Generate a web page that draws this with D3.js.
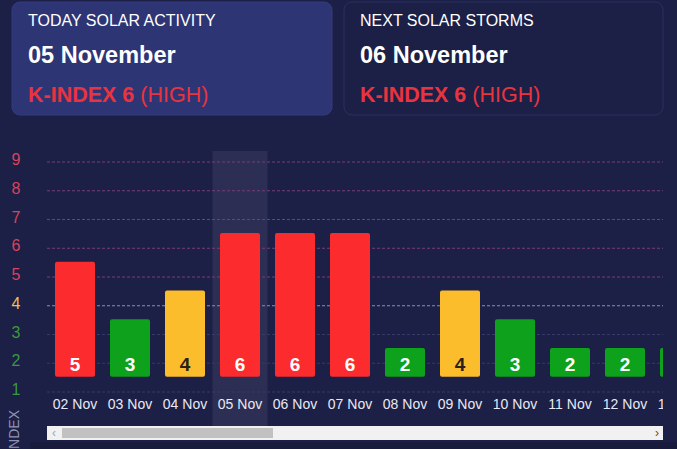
<!DOCTYPE html>
<html>
<head>
<meta charset="utf-8">
<script src="https://cdn.jsdelivr.net/npm/d3@7"></script>
<style>
  html, body { margin: 0; padding: 0; background: #1c1f46; overflow: hidden; }
  svg { display: block; font-family: "Liberation Sans", Arial, sans-serif; }
</style>
</head>
<body>
<div id="chart"></div>
<script>
// data
const days = ["02 Nov", "03 Nov", "04 Nov", "05 Nov", "06 Nov", "07 Nov",
              "08 Nov", "09 Nov", "10 Nov", "11 Nov", "12 Nov", "13 Nov"];
const kIndex = [5, 3, 4, 6, 6, 6, 2, 4, 3, 2, 2, 2];
const yTicks = [1, 2, 3, 4, 5, 6, 7, 8, 9];
const today = "05 Nov";

const cards = [
  { title: "TODAY SOLAR ACTIVITY", date: "05 November", k: "K-INDEX 6", level: "(HIGH)" },
  { title: "NEXT SOLAR STORMS", date: "06 November", k: "K-INDEX 6", level: "(HIGH)" }
];

const width = 677, height = 449;
const plot = { left: 47, right: 663 };

// colour by storm level
const barColor = v => v >= 5 ? "#fb2b2e" : v === 4 ? "#fbbd2b" : "#0ea11b";
const tickColor = v => v >= 5 ? "#d9435e" : v === 4 ? "#e9c25a" : "#3a9a3e";
const gridColor = v => v >= 5 ? "#7a3c78" : v === 4 ? "#8d8fa8" : "#353a66";

const svg = d3.select("#chart").append("svg")
  .attr("width", width)
  .attr("height", height);

// header cards
const card = svg.append("g").selectAll("g")
  .data(cards)
  .join("g")
    .attr("transform", (d, i) => `translate(${i ? 344 : 12}, 2)`);

card.append("rect")
  .attr("width", (d, i) => i ? 319 : 320)
  .attr("height", 113)
  .attr("rx", 8)
  .attr("fill", (d, i) => i ? "#1c1f46" : "#2e3575")
  .attr("stroke", (d, i) => i ? "#2b3061" : "#343b7c");

card.append("text")
  .attr("x", 16).attr("y", 24)
  .attr("fill", "#ffffff")
  .attr("font-size", 16)
  .text(d => d.title);

card.append("text")
  .attr("x", 16).attr("y", 61)
  .attr("fill", "#ffffff")
  .attr("font-size", 23.5)
  .attr("font-weight", "bold")
  .text(d => d.date);

const kLine = card.append("text")
  .attr("x", 16).attr("y", 100)
  .attr("fill", "#e8343f")
  .attr("font-size", 21.5);
kLine.append("tspan").attr("font-weight", "bold").text(d => d.k + " ");
kLine.append("tspan").text(d => d.level);

// scales
const x = d3.scaleBand()
  .domain(days)
  .range([47.5, 707.5])
  .paddingInner(15 / 55)
  .paddingOuter(7.5 / 55);

const y = d3.scaleLinear()
  .domain([1, 9])
  .range([391, 161]);

svg.append("defs").append("clipPath").attr("id", "plot-clip")
  .append("rect")
    .attr("x", plot.left).attr("y", 140)
    .attr("width", plot.right - plot.left).attr("height", 300);

// y labels
svg.append("g").selectAll("text")
  .data(yTicks)
  .join("text")
    .attr("x", 16)
    .attr("y", d => y(d) + 4)
    .attr("text-anchor", "middle")
    .attr("font-size", 16)
    .attr("fill", tickColor)
    .text(d => d);

svg.append("text")
  .attr("transform", "translate(19, 410) rotate(-90)")
  .attr("text-anchor", "end")
  .attr("font-size", 14)
  .attr("fill", "#8f93b0")
  .text("K-INDEX");

const inner = svg.append("g").attr("clip-path", "url(#plot-clip)");

// highlight column for today
const step = x.step();
inner.append("rect")
  .attr("x", x(today) - (step - x.bandwidth()) / 2)
  .attr("y", 151)
  .attr("width", step)
  .attr("height", 275)
  .attr("fill", "#ffffff")
  .attr("opacity", 0.07);

// gridlines
inner.append("g").selectAll("line")
  .data(yTicks)
  .join("line")
    .attr("x1", plot.left).attr("x2", plot.right)
    .attr("y1", d => y(d) + 1).attr("y2", d => y(d) + 1)
    .attr("stroke", gridColor)
    .attr("stroke-width", 1)
    .attr("stroke-dasharray", "3,2");

const rows = days.map((d, i) => ({ day: d, k: kIndex[i] }));

inner.append("g").selectAll("rect")
  .data(rows)
  .join("rect")
    .attr("x", d => x(d.day))
    .attr("y", d => y(d.k + 0.5))
    .attr("width", x.bandwidth())
    .attr("height", d => y(1.5) - y(d.k + 0.5))
    .attr("rx", 2)
    .attr("fill", d => barColor(d.k));

inner.append("g").selectAll("text")
  .data(rows)
  .join("text")
    .attr("x", d => x(d.day) + x.bandwidth() / 2)
    .attr("y", 371)
    .attr("text-anchor", "middle")
    .attr("font-size", 19)
    .attr("font-weight", "bold")
    .attr("fill", d => d.k === 4 ? "#2a2118" : "#ffffff")
    .text(d => d.k);

inner.append("g")
  .attr("transform", "translate(0, 409)")
  .call(d3.axisBottom(x).tickSize(0).tickPadding(0))
  .call(g => g.select(".domain").remove())
  .call(g => g.selectAll("text")
    .attr("dy", 0)
    .attr("font-size", 14)
    .attr("font-family", "'Liberation Sans', Arial, sans-serif")
    .attr("fill", "#e8e9f2"));

// scrollbar
svg.append("rect")
  .attr("x", plot.left).attr("y", 426)
  .attr("width", plot.right - plot.left).attr("height", 14)
  .attr("fill", "#f1f1f1");
svg.append("rect")
  .attr("x", 62).attr("y", 428)
  .attr("width", 211).attr("height", 10)
  .attr("fill", "#c1c1c1");
svg.append("text")
  .attr("x", 54).attr("y", 437)
  .attr("text-anchor", "middle")
  .attr("font-size", 12)
  .attr("fill", "#a3a3a3")
  .text("‹");
svg.append("text")
  .attr("x", 657).attr("y", 437)
  .attr("text-anchor", "middle")
  .attr("font-size", 12)
  .attr("fill", "#505050")
  .text("›");
svg.append("rect")
  .attr("x", 30).attr("y", 442)
  .attr("width", width - 30).attr("height", 7)
  .attr("fill", "#181b3c");
</script>
</body>
</html>
